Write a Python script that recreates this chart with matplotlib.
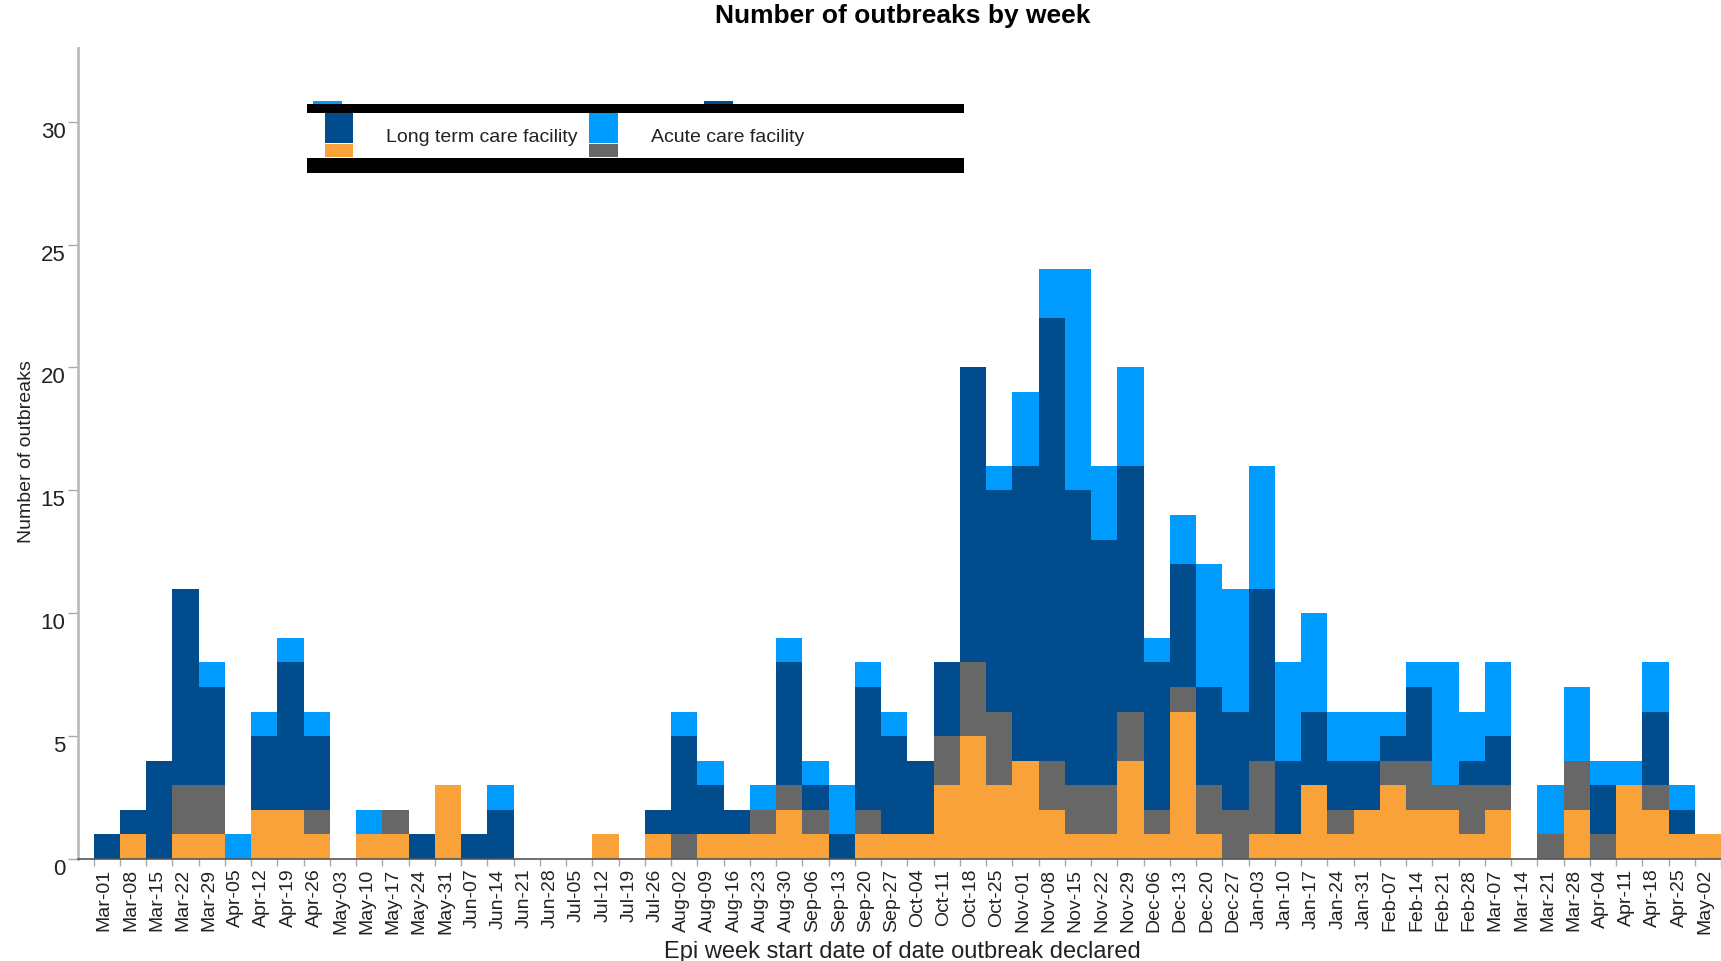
import numpy as np
import matplotlib
matplotlib.use('Agg')
import matplotlib.pyplot as plt
from matplotlib.patches import Rectangle

plt.rcParams['font.family'] = ['Liberation Sans', 'DejaVu Sans']

# week labels (epi week start dates)
weeks = ['Mar-01', 'Mar-08', 'Mar-15', 'Mar-22', 'Mar-29', 'Apr-05', 'Apr-12', 'Apr-19', 'Apr-26',
         'May-03', 'May-10', 'May-17', 'May-24', 'May-31', 'Jun-07', 'Jun-14', 'Jun-21', 'Jun-28',
         'Jul-05', 'Jul-12', 'Jul-19', 'Jul-26', 'Aug-02', 'Aug-09', 'Aug-16', 'Aug-23', 'Aug-30',
         'Sep-06', 'Sep-13', 'Sep-20', 'Sep-27', 'Oct-04', 'Oct-11', 'Oct-18', 'Oct-25', 'Nov-01',
         'Nov-08', 'Nov-15', 'Nov-22', 'Nov-29', 'Dec-06', 'Dec-13', 'Dec-20', 'Dec-27', 'Jan-03',
         'Jan-10', 'Jan-17', 'Jan-24', 'Jan-31', 'Feb-07', 'Feb-14', 'Feb-21', 'Feb-28', 'Mar-07',
         'Mar-14', 'Mar-21', 'Mar-28', 'Apr-04', 'Apr-11', 'Apr-18', 'Apr-25', 'May-02']

# outbreak counts per week, stacked bottom to top
orange = [0, 1, 0, 1, 1, 0, 2, 2, 1, 0, 1, 1, 0, 3, 0, 0, 0, 0, 0, 1, 0, 1, 0, 1, 1, 1, 2, 1, 0, 1, 1,
          1, 3, 5, 3, 4, 2, 1, 1, 4, 1, 6, 1, 0, 1, 1, 3, 1, 2, 3, 2, 2, 1, 2, 0, 0, 2, 0, 3, 2, 1, 1]
grey = [0, 0, 0, 2, 2, 0, 0, 0, 1, 0, 0, 1, 0, 0, 0, 0, 0, 0, 0, 0, 0, 0, 1, 0, 0, 1, 1, 1, 0, 1, 0,
        0, 2, 3, 3, 0, 2, 2, 2, 2, 1, 1, 2, 2, 3, 0, 0, 1, 0, 1, 2, 1, 2, 1, 0, 1, 2, 1, 0, 1, 0, 0]
ltc = [1, 1, 4, 8, 4, 0, 3, 6, 3, 0, 0, 0, 1, 0, 1, 2, 0, 0, 0, 0, 0, 1, 4, 2, 1, 0, 5, 1, 1, 5, 4,
       3, 3, 12, 9, 12, 18, 12, 10, 10, 6, 5, 4, 4, 7, 3, 3, 2, 2, 1, 3, 0, 1, 2, 0, 0, 0, 2, 0, 3, 1, 0]
acute = [0, 0, 0, 0, 1, 1, 1, 1, 1, 0, 1, 0, 0, 0, 0, 1, 0, 0, 0, 0, 0, 0, 1, 1, 0, 1, 1, 1, 2, 1, 1,
         0, 0, 0, 1, 3, 2, 9, 3, 4, 1, 2, 5, 5, 5, 4, 4, 2, 2, 1, 1, 5, 2, 3, 0, 2, 3, 1, 1, 2, 1, 0]

c_orange = '#f9a23a'
c_grey = '#676767'
c_dark = '#004c8c'
c_light = '#009bff'

fig = plt.figure(figsize=(17.21, 9.61), dpi=100)
ax = fig.add_axes([78 / 1721, 1 - 859 / 961, 1 - 78 / 1721, (859 - 48) / 961])

x = np.arange(len(weeks))
b1 = np.array(orange)
b2 = b1 + np.array(grey)
b3 = b2 + np.array(ltc)
ax.bar(x, orange, width=1.0, color=c_orange, linewidth=0)
ax.bar(x, grey, width=1.0, bottom=b1, color=c_grey, linewidth=0)
ax.bar(x, ltc, width=1.0, bottom=b2, color=c_dark, linewidth=0)
ax.bar(x, acute, width=1.0, bottom=b3, color=c_light, linewidth=0)

ax.set_xlim(-1.1, 60.9)
ax.set_ylim(0, 33)

# axes look
for s in ['top', 'right']:
    ax.spines[s].set_visible(False)
ax.spines['left'].set_color('#bdbdbd')
ax.spines['left'].set_linewidth(2)
ax.spines['bottom'].set_color('#555555')
ax.spines['bottom'].set_linewidth(1.2)

ax.set_yticks(range(0, 31, 5))
ax.tick_params(axis='y', length=7, width=1, color='#aaaaaa', labelsize=16, pad=2, labelcolor='#222222')
for lab in ax.get_yticklabels():
    lab.set_verticalalignment('top')

ax.set_xticks(x - 0.1)
ax.set_xticklabels(weeks, rotation=90, fontsize=14, color='#222222')
ax.tick_params(axis='x', which='major', length=0, pad=7)
ax.set_xticks(np.arange(len(weeks) + 1) - 0.5, minor=True)
ax.tick_params(axis='x', which='minor', length=5, width=1, color='#aaaaaa')

fig.text(903 / 1721, 1 - 16 / 961, 'Number of outbreaks by week', ha='center', va='center',
         fontsize=19, fontweight='bold')
fig.text(902 / 1721, 1 - 952 / 961, 'Epi week start date of date outbreak declared', ha='center',
         va='center', fontsize=17, color='#222222')
fig.text(27 / 1721, 1 - 452 / 961, 'Number of outbreaks', ha='center', va='center', rotation=90,
         fontsize=14, color='#222222')

# legend as it appears (clipped, with black bars)
W, H = 1721.0, 961.0


def rect(x0, y0, x1, y1, color):
    fig.add_artist(Rectangle((x0 / W, 1 - y1 / H), (x1 - x0) / W, (y1 - y0) / H,
                             transform=fig.transFigure, color=color, linewidth=0))


rect(313, 101, 342, 104, c_light)
rect(704, 101, 733, 104, c_dark)
rect(307, 104, 964, 113, 'black')
rect(307, 158, 964, 173, 'black')
rect(325, 113, 353, 143, c_dark)
rect(325, 144, 353, 157, c_orange)
rect(589, 113, 618, 143, c_light)
rect(589, 144, 618, 157, c_grey)
fig.text(386 / W, 1 - 138 / H, 'Long term care facility', va='center', fontsize=14, color='#222222')
fig.text(651 / W, 1 - 138 / H, 'Acute care facility', va='center', fontsize=14, color='#222222')

fig.savefig('out.png', dpi=100)
